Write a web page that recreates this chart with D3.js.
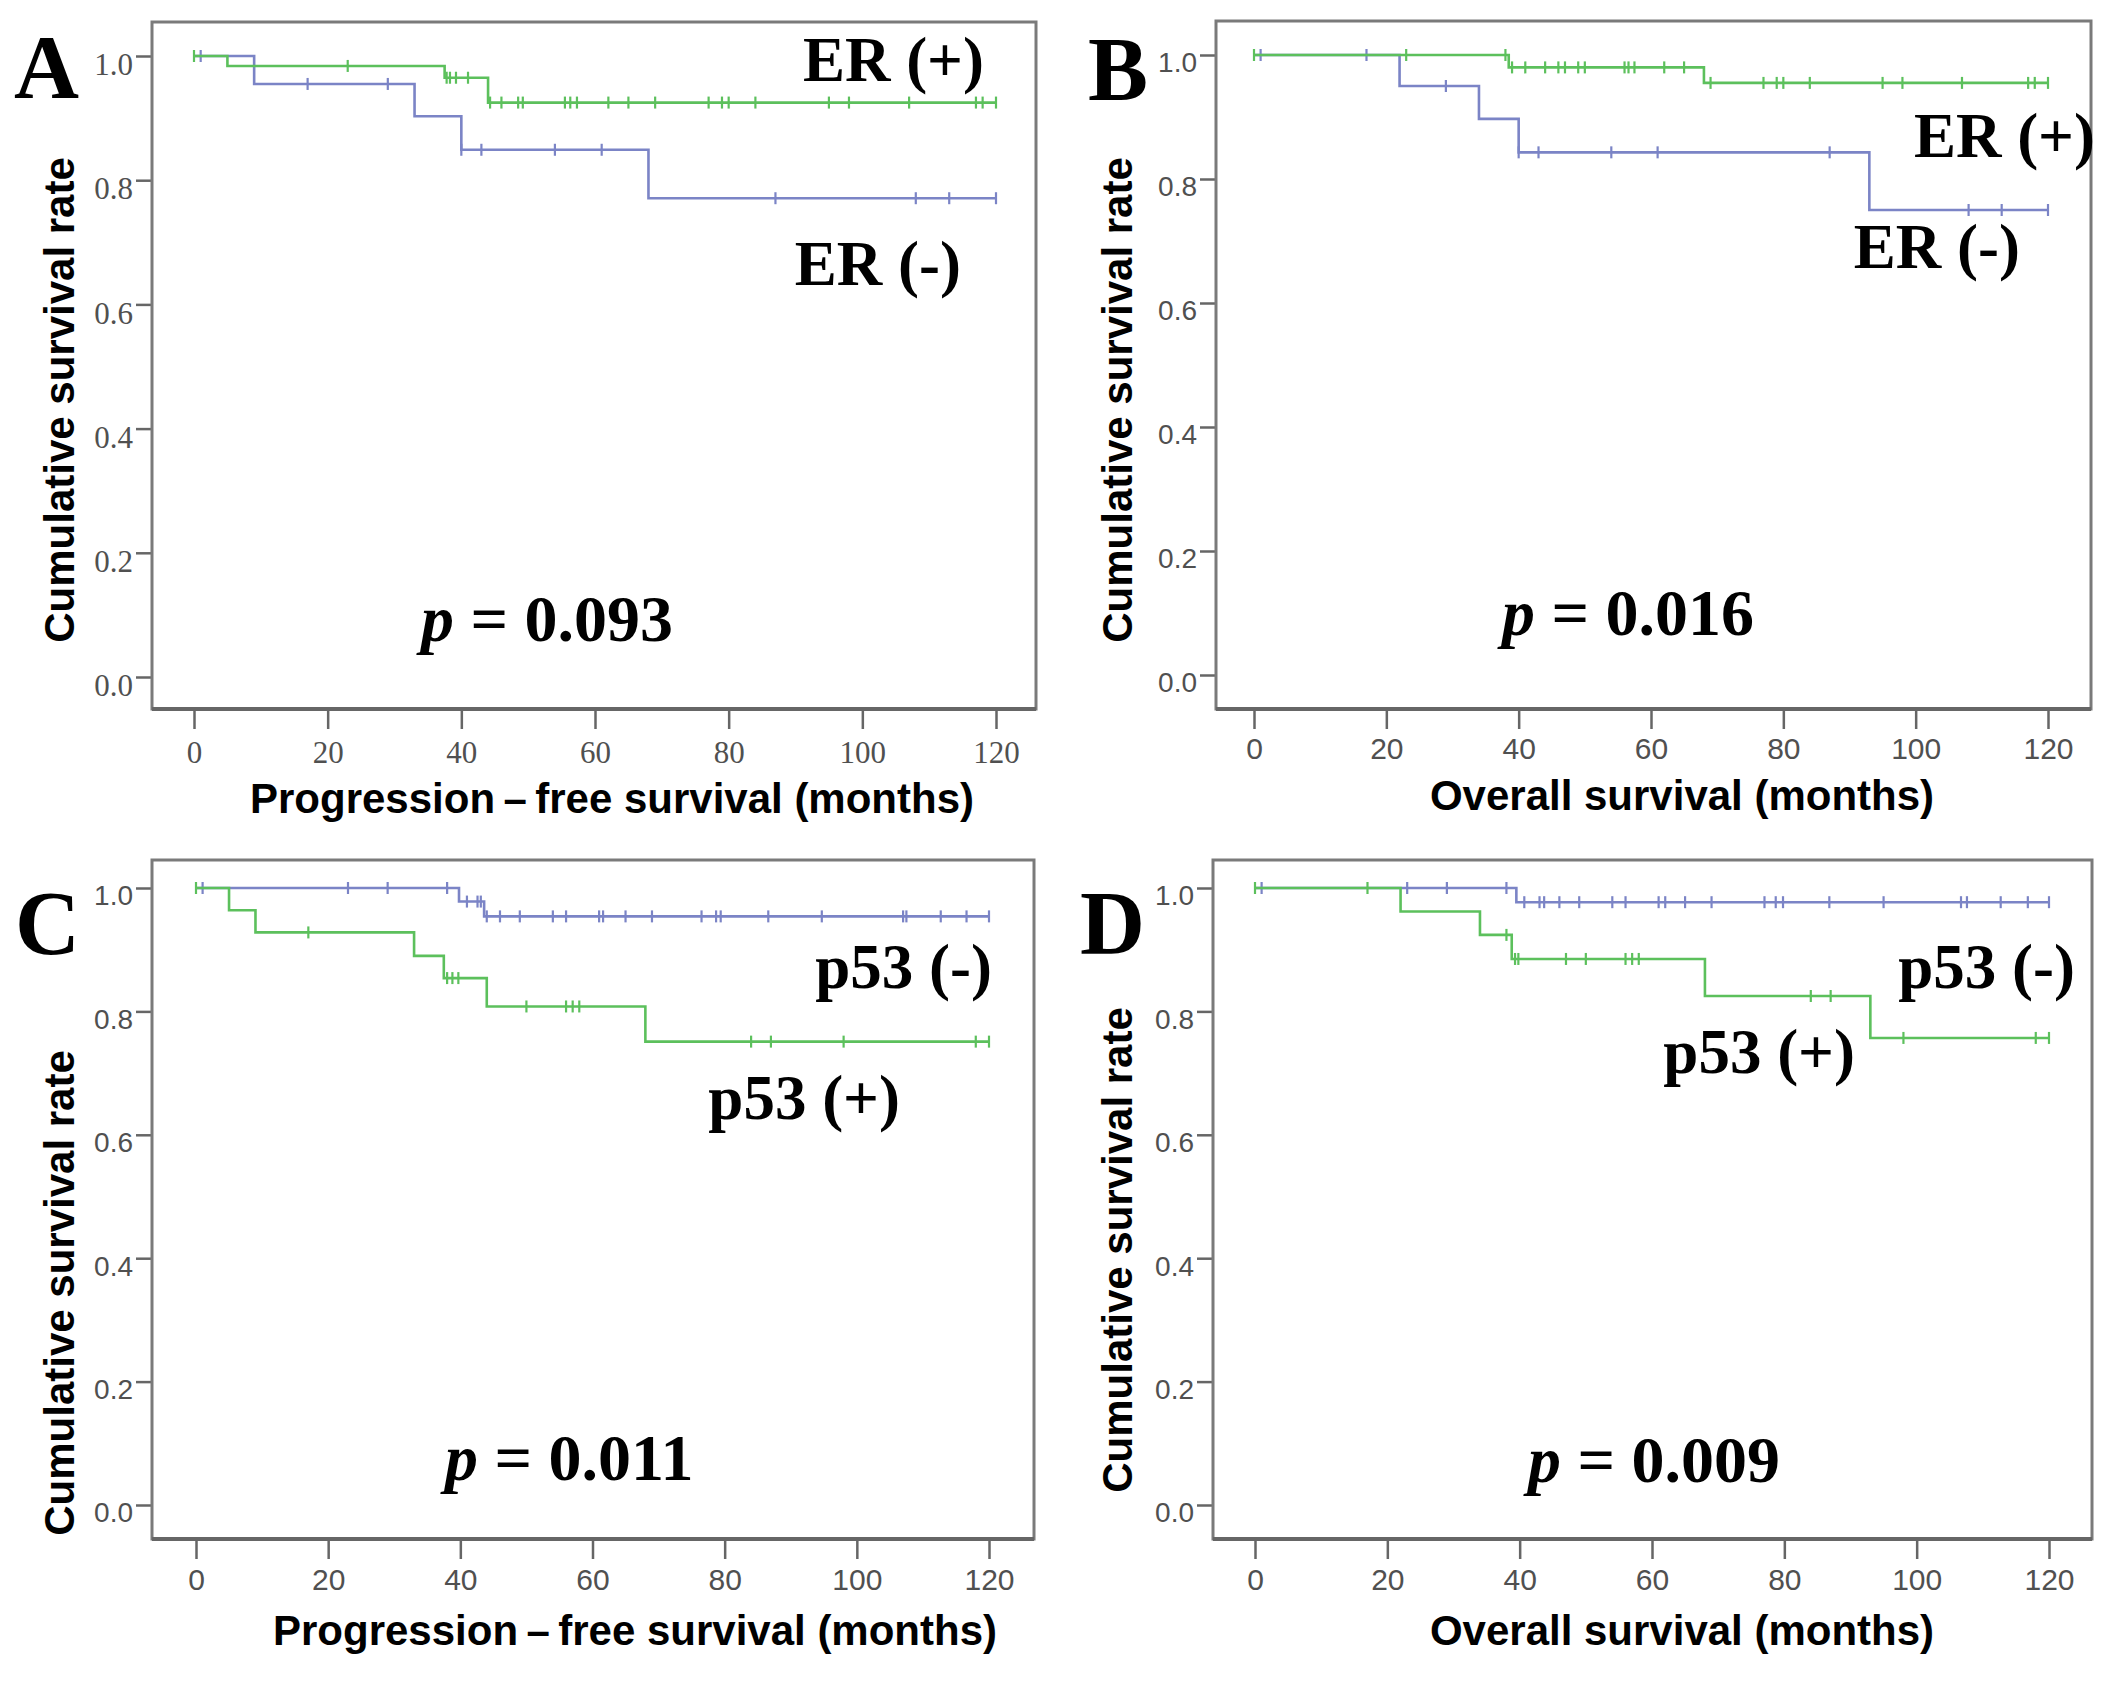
<!DOCTYPE html>
<html>
<head>
<meta charset="utf-8">
<style>
  body { margin: 0; background: #fff; }
</style>
</head>
<body>
<script src="https://cdn.jsdelivr.net/npm/d3@7"></script>
<script>

    const width = 2126;
    const height = 1686;

    const xTicks = [0, 20, 40, 60, 80, 100, 120];
    const yTicks = [0, 0.2, 0.4, 0.6, 0.8, 1.0];

    // A: progression-free survival by ER
    const pfsErPosTimes = [0, 5, 37.5, 44];
    const pfsErPosSurv = [1, 0.984, 0.965, 0.925];
    const pfsErPosCensor = [0, 23, 37.8, 38.3, 39.2, 41, 44.3, 46, 48.5, 49.2, 55.5, 56.3, 57.3, 62, 65, 69, 77, 79, 80, 84, 95, 98, 107, 117, 118, 120];
    const pfsErNegTimes = [0, 9, 33, 40, 68];
    const pfsErNegSurv = [1, 0.955, 0.903, 0.849, 0.771];
    const pfsErNegCensor = [1, 17, 29, 40, 43, 54, 61, 87, 108, 113, 120];

    // B: overall survival by ER
    const osErPosTimes = [0, 38.5, 68];
    const osErPosSurv = [1, 0.98, 0.955];
    const osErPosCensor = [0, 23, 38, 39, 41, 44, 46, 47, 49, 50, 56, 56.6, 57.5, 62, 65, 69, 77, 79, 80, 84, 95, 98, 107, 117, 118, 120];
    const osErNegTimes = [0, 22, 34, 40, 93];
    const osErNegSurv = [1, 0.95, 0.897, 0.843, 0.75];
    const osErNegCensor = [1, 17, 29, 40, 43, 54, 61, 87, 108, 113, 120];

    // C: progression-free survival by p53
    const pfsP53NegTimes = [0, 39.8, 43.6];
    const pfsP53NegSurv = [1, 0.978, 0.954];
    const pfsP53NegCensor = [1, 23, 29, 38, 41, 42.6, 43.1, 44, 46, 49, 54, 56, 61, 61.6, 65, 69, 76.5, 78.7, 79.4, 86.6, 94.7, 107, 107.5, 112.7, 116.6, 120];
    const pfsP53PosTimes = [0, 5, 9, 33, 37.5, 44, 68];
    const pfsP53PosSurv = [1, 0.964, 0.928, 0.89, 0.854, 0.808, 0.751];
    const pfsP53PosCensor = [0, 17, 38, 38.8, 39.7, 50, 56, 57, 58, 84, 87, 98, 118, 120];

    // D: overall survival by p53
    const osP53NegTimes = [0, 39.5];
    const osP53NegSurv = [1, 0.977];
    const osP53NegCensor = [1, 23, 29, 38, 40.7, 43, 43.7, 46, 49, 54, 56, 61, 62, 65, 69, 77, 78.7, 79.8, 86.8, 95, 106.7, 107.6, 112.7, 116.8, 120];
    const osP53PosTimes = [0, 22, 34, 38.8, 68, 93];
    const osP53PosSurv = [1, 0.962, 0.924, 0.885, 0.825, 0.757];
    const osP53PosCensor = [0, 17, 38, 39.3, 39.8, 47, 50, 56, 57, 58, 84, 87, 98, 118, 120];

    const pValues = ['0.093', '0.016', '0.011', '0.009'];
    const panelLetters = ['A', 'B', 'C', 'D'];
    const pfsTitle = 'Progression\u2009\u2013\u2009free survival (months)';
    const osTitle = 'Overall survival (months)';
    const yTitle = 'Cumulative survival rate';

    const green = '#5cc05c';
    const blue = '#7b84c6';
    const serif = "'Liberation Serif', 'Times New Roman', serif";
    const sans = "'Liberation Sans', Arial, sans-serif";

    const panels = [
        {
            box: [152, 22, 1036, 709], xr: [194, 996], yr: [677, 56], serifTicks: true,
            xTitle: pfsTitle, xTitlePos: [612, 813], yTitlePos: [59, 400], xTickY: 54,
            letterPos: [14, 98],
            series: [
                { times: pfsErNegTimes, surv: pfsErNegSurv, censor: pfsErNegCensor, color: blue },
                { times: pfsErPosTimes, surv: pfsErPosSurv, censor: pfsErPosCensor, color: green }
            ],
            labels: [{ text: 'ER (+)', x: 984, y: 81 }, { text: 'ER (-)', x: 961, y: 285 }],
            pPos: [421, 641]
        },
        {
            box: [1216, 21, 2091, 709], xr: [1254, 2048], yr: [675, 55], serifTicks: false,
            xTitle: osTitle, xTitlePos: [1682, 810], yTitlePos: [1117, 400], xTickY: 50,
            letterPos: [1088, 100],
            series: [
                { times: osErNegTimes, surv: osErNegSurv, censor: osErNegCensor, color: blue },
                { times: osErPosTimes, surv: osErPosSurv, censor: osErPosCensor, color: green }
            ],
            labels: [{ text: 'ER (+)', x: 2095, y: 157 }, { text: 'ER (-)', x: 2020, y: 268 }],
            pPos: [1502, 635]
        },
        {
            box: [152, 860, 1034, 1539], xr: [196, 989], yr: [1505, 888], serifTicks: false,
            xTitle: pfsTitle, xTitlePos: [635, 1645], yTitlePos: [59, 1293], xTickY: 51,
            letterPos: [15, 954],
            series: [
                { times: pfsP53NegTimes, surv: pfsP53NegSurv, censor: pfsP53NegCensor, color: blue },
                { times: pfsP53PosTimes, surv: pfsP53PosSurv, censor: pfsP53PosCensor, color: green }
            ],
            labels: [{ text: 'p53 (-)', x: 992, y: 988 }, { text: 'p53 (+)', x: 900, y: 1119 }],
            pPos: [445, 1480]
        },
        {
            box: [1213, 860, 2092, 1539], xr: [1255, 2049], yr: [1505, 888], serifTicks: false,
            xTitle: osTitle, xTitlePos: [1682, 1645], yTitlePos: [1117, 1250], xTickY: 51,
            letterPos: [1080, 954],
            series: [
                { times: osP53NegTimes, surv: osP53NegSurv, censor: osP53NegCensor, color: blue },
                { times: osP53PosTimes, surv: osP53PosSurv, censor: osP53PosCensor, color: green }
            ],
            labels: [{ text: 'p53 (-)', x: 2075, y: 988 }, { text: 'p53 (+)', x: 1855, y: 1073 }],
            pPos: [1528, 1482]
        }
    ];

    var svg = d3.select("body")
        .append("svg")
        .attr("width", width)
        .attr("height", height)
        .style("display", "block");

    function survAt(times, surv, t) {
        var i = d3.bisectRight(times, t) - 1;
        return surv[Math.max(i, 0)];
    }

    panels.forEach(function (p, k) {
        var g = svg.append("g");
        var x = d3.scaleLinear().domain([0, 120]).range(p.xr);
        var y = d3.scaleLinear().domain([0, 1]).range(p.yr);
        var tickFont = p.serifTicks ? serif : sans;

        // y axis
        var yAxis = g.append("g")
            .attr("transform", "translate(" + p.box[0] + ",0)")
            .call(d3.axisLeft(y).tickValues(yTicks).tickSize(16).tickPadding(3).tickFormat(d3.format(".1f")));
        yAxis.select(".domain").remove();
        yAxis.selectAll("line").attr("stroke", "#666").attr("stroke-width", 2.5);
        yAxis.selectAll("text")
            .attr("dy", "0.6em")
            .style("font-family", tickFont)
            .style("font-size", p.serifTicks ? "31px" : "28px")
            .attr("fill", "#505050");

        // x axis
        var xAxis = g.append("g")
            .attr("transform", "translate(0," + p.box[3] + ")")
            .call(d3.axisBottom(x).tickValues(xTicks).tickSize(20));
        xAxis.select(".domain").remove();
        xAxis.selectAll("line").attr("stroke", "#666").attr("stroke-width", 2.5);
        xAxis.selectAll("text")
            .attr("y", p.xTickY)
            .attr("dy", 0)
            .style("font-family", tickFont)
            .style("font-size", p.serifTicks ? "31px" : "30px")
            .attr("fill", "#505050");

        // frame
        g.append("rect")
            .attr("x", p.box[0])
            .attr("y", p.box[1])
            .attr("width", p.box[2] - p.box[0])
            .attr("height", p.box[3] - p.box[1])
            .attr("fill", "none")
            .attr("stroke", "#7a7a7a")
            .attr("stroke-width", 3);
        g.append("line")
            .attr("x1", p.box[0]).attr("x2", p.box[2])
            .attr("y1", p.box[3]).attr("y2", p.box[3])
            .attr("stroke", "#666")
            .attr("stroke-width", 4);

        // survival curves
        var line = d3.line()
            .x(function (d) { return x(d[0]); })
            .y(function (d) { return y(d[1]); })
            .curve(d3.curveStepAfter);

        p.series.forEach(function (s) {
            var pts = s.times.map(function (t, i) { return [t, s.surv[i]]; });
            pts.push([d3.max(s.censor), s.surv[s.surv.length - 1]]);
            g.append("path")
                .attr("d", line(pts))
                .attr("fill", "none")
                .attr("stroke", s.color)
                .attr("stroke-width", 2.6);
            g.selectAll(null)
                .data(s.censor)
                .enter()
                .append("line")
                .attr("x1", function (d) { return x(d); })
                .attr("x2", function (d) { return x(d); })
                .attr("y1", function (d) { return y(survAt(s.times, s.surv, d)) - 6; })
                .attr("y2", function (d) { return y(survAt(s.times, s.surv, d)) + 6; })
                .attr("stroke", s.color)
                .attr("stroke-width", 2.2);
        });

        // group labels
        p.labels.forEach(function (l) {
            g.append("text")
                .attr("x", l.x)
                .attr("y", l.y)
                .style("text-anchor", "end")
                .style("font-family", serif)
                .style("font-weight", "bold")
                .style("font-size", "63px")
                .text(l.text);
        });

        // p value
        var pt = g.append("text")
            .attr("x", p.pPos[0])
            .attr("y", p.pPos[1])
            .style("font-family", serif)
            .style("font-weight", "bold")
            .style("font-size", "66px");
        pt.append("tspan").style("font-style", "italic").text("p");
        pt.append("tspan").text(" = " + pValues[k]);

        // panel letter
        g.append("text")
            .attr("x", p.letterPos[0])
            .attr("y", p.letterPos[1])
            .style("font-family", serif)
            .style("font-weight", "bold")
            .style("font-size", "90px")
            .text(panelLetters[k]);

        // axis titles
        g.append("text")
            .attr("x", p.xTitlePos[0])
            .attr("y", p.xTitlePos[1])
            .style("text-anchor", "middle")
            .style("font-family", sans)
            .style("font-weight", "bold")
            .style("font-size", "42px")
            .text(p.xTitle);
        g.append("text")
            .attr("transform", "translate(" + p.yTitlePos[0] + "," + p.yTitlePos[1] + ") rotate(-90)")
            .attr("dy", "0.36em")
            .style("text-anchor", "middle")
            .style("font-family", sans)
            .style("font-weight", "bold")
            .style("font-size", "42px")
            .text(yTitle);
    });
</script>
</body>
</html>
